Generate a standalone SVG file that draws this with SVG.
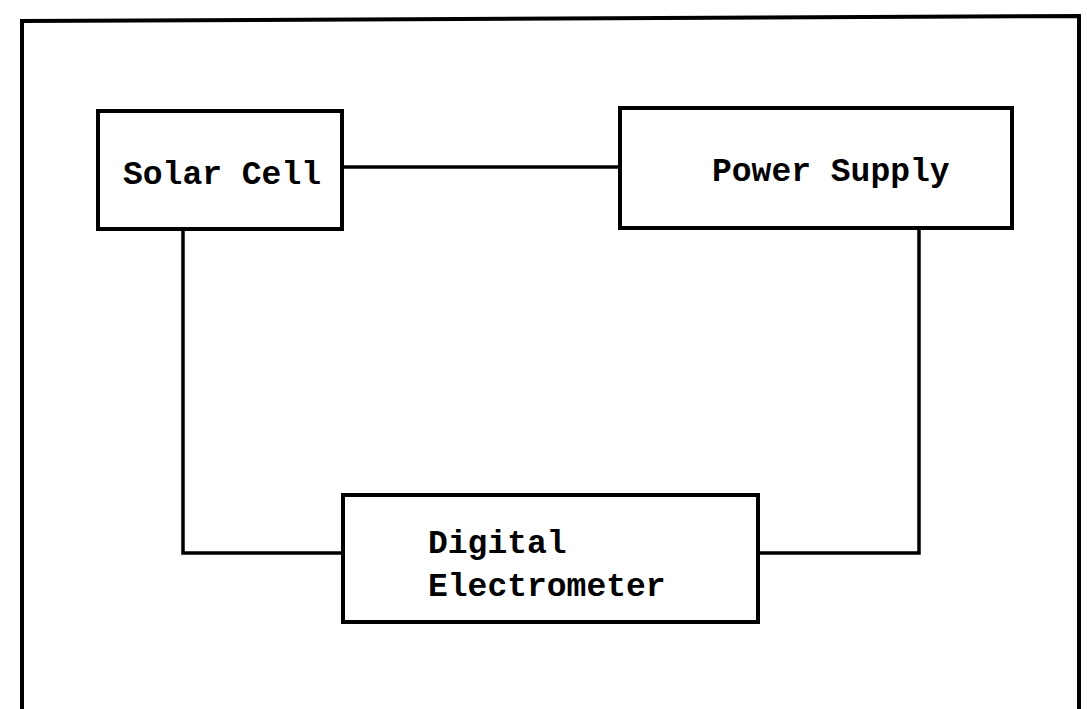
<svg xmlns="http://www.w3.org/2000/svg" width="1087" height="709" viewBox="0 0 1087 709">
<style>
.box{fill:none;stroke:#000;stroke-width:4;stroke-linejoin:miter}
.wire{fill:none;stroke:#000;stroke-width:3.5}
.lbl{font-family:"Liberation Mono","DejaVu Sans Mono",monospace;font-size:33px;font-weight:bold;fill:#000}
</style>
<rect width="1087" height="709" fill="#fff"/>
<path id="frame" d="M22,712 L22,21 L1079,16 L1079,712" fill="none" stroke="#000" stroke-width="4"/>
<g id="connectors">
<line class="wire" x1="343" y1="167" x2="620" y2="167"/>
<polyline class="wire" points="183,229 183,553 343,553"/>
<polyline class="wire" points="919,228 919,553 758,553"/>
</g>
<g id="solar-cell">
<rect class="box" x="98" y="111" width="244" height="118"/>
<text class="lbl" x="123" y="184">Solar Cell</text>
</g>
<g id="power-supply">
<rect class="box" x="620" y="108" width="392" height="120"/>
<text class="lbl" x="712" y="181">Power Supply</text>
</g>
<g id="digital-electrometer">
<rect class="box" x="343" y="495" width="415" height="127"/>
<text class="lbl" x="428" y="553">Digital</text>
<text class="lbl" x="428" y="596">Electrometer</text>
</g>
</svg>
